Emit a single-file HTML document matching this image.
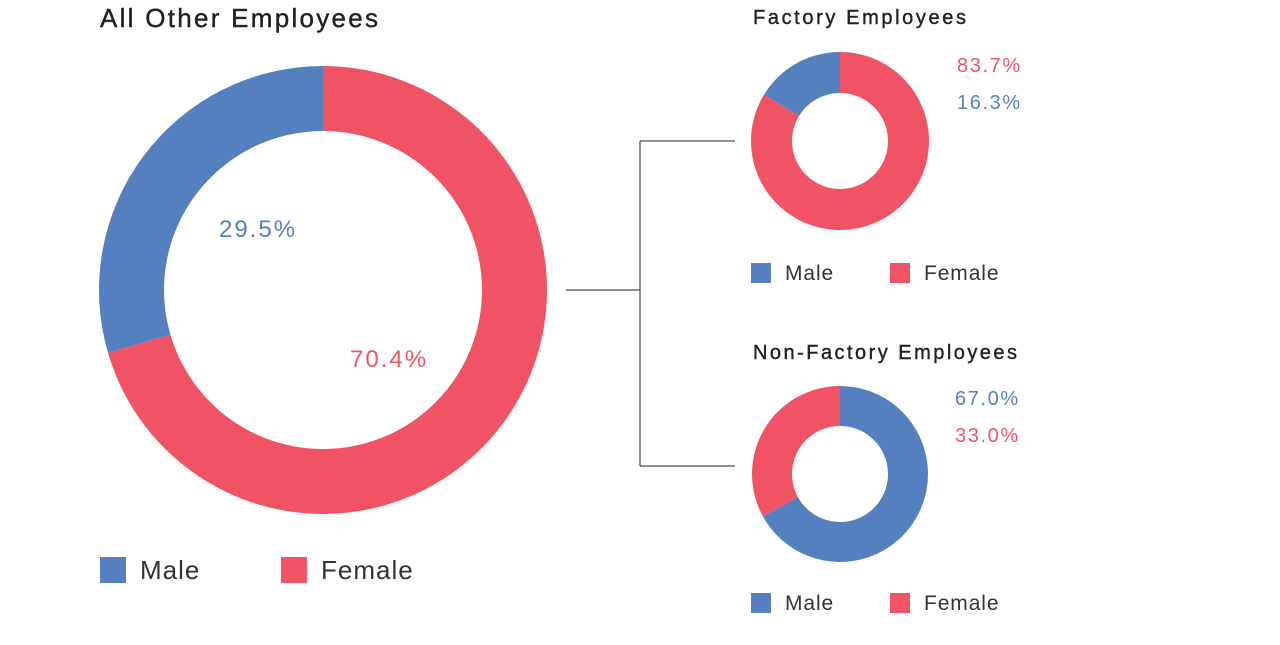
<!DOCTYPE html>
<html><head><meta charset="utf-8"><style>
body{margin:0;width:1280px;height:640px;background:#fff;overflow:hidden;font-family:"Liberation Sans",sans-serif}
svg text{font-family:"Liberation Sans",sans-serif}
</style></head><body>
<svg id="chart" width="1280" height="640">
<g id="lines" stroke="#222" stroke-width="1" fill="none">
<line x1="566" y1="290" x2="640" y2="290"/>
<line x1="640" y1="141" x2="640" y2="466"/>
<line x1="640" y1="141" x2="735" y2="141"/>
<line x1="640" y1="466" x2="735" y2="466"/>
</g>
</svg>
<script>
const chartTitles=["All Other Employees","Factory Employees","Non-Factory Employees"];
const maleValues=[29.5,16.3,67.0];
const femaleValues=[70.4,83.7,33.0];
const maleClockwise=[false,false,true];
const BLUE="#5580c0",RED="#f05464";
const layouts=[
 {cx:323,cy:290,r:224,ir:159,title:[100,27,26,278],legY:557,sq:26,lx:[100,281],fs:26,ls:1},
 {cx:840,cy:141,r:89,ir:48,title:[753,24,20,213],legY:263,sq:20,lx:[751,890],fs:21,ls:0.9},
 {cx:840,cy:474,r:88,ir:48,title:[753,359,20,264],legY:593,sq:20,lx:[751,890],fs:21,ls:0.9}
];
const svg=document.getElementById('chart');
const NS="http://www.w3.org/2000/svg";
function mk(t,a){const e=document.createElementNS(NS,t);for(const k in a)e.setAttribute(k,a[k]);return e;}
function pt(cx,cy,r,a){return [cx+r*Math.sin(a),cy-r*Math.cos(a)];}
function arc(L,a0,a1){
 const s=Math.min(a0,a1),e=Math.max(a0,a1),big=(e-s)>Math.PI?1:0;
 const p0=pt(L.cx,L.cy,L.r,s),p1=pt(L.cx,L.cy,L.r,e),q1=pt(L.cx,L.cy,L.ir,e),q0=pt(L.cx,L.cy,L.ir,s);
 return `M${p0}L${p0}A${L.r},${L.r} 0 ${big} 1 ${p1}L${q1}A${L.ir},${L.ir} 0 ${big} 0 ${q0}Z`;
}
layouts.forEach((L,i)=>{
 const tot=maleValues[i]+femaleValues[i];
 const ma=maleValues[i]/tot*2*Math.PI;
 const dir=maleClockwise[i]?1:-1;
 const m=mk('path',{d:arc(L,0,dir*ma),fill:BLUE});
 
 
 svg.appendChild(m);
 const f=mk('path',{d:arc(L,dir*ma,dir*2*Math.PI),fill:RED});
 
 
 svg.appendChild(f);
 const t=mk('text',{x:L.title[0],y:L.title[1],'font-size':L.title[2],fill:'#222',textLength:L.title[3],lengthAdjust:'spacing','stroke':'#222','stroke-width':0.4});
 t.textContent=chartTitles[i];
 
 
 svg.appendChild(t);
 ['Male','Female'].forEach((n,j)=>{
  const r=mk('rect',{x:L.lx[j],y:L.legY,width:L.sq,height:L.sq,fill:j?RED:BLUE});
  
  
  svg.appendChild(r);
  const tx=mk('text',{x:L.lx[j]+L.sq+14,y:L.legY+L.sq*0.85,'font-size':L.fs,fill:'#333','letter-spacing':L.ls});
  tx.textContent=n;
  
  
  svg.appendChild(tx);
 });
});
function lab(x,y,fs,col,txt,name,ls){const e=mk('text',{x:x,y:y,'font-size':fs,fill:col,'letter-spacing':ls});e.textContent=txt;
 
 
 svg.appendChild(e);}
lab(219,237,24,BLUE,maleValues[0].toFixed(1)+'%','male-value-all-other',2);
lab(350,367,24,RED,femaleValues[0].toFixed(1)+'%','female-value-all-other',2);
lab(957,72,20,RED,femaleValues[1].toFixed(1)+'%','female-value-factory',1.6);
lab(957,109,20,BLUE,maleValues[1].toFixed(1)+'%','male-value-factory',1.6);
lab(955,405,20,BLUE,maleValues[2].toFixed(1)+'%','male-value-non-factory',1.6);
lab(955,442,20,RED,femaleValues[2].toFixed(1)+'%','female-value-non-factory',1.6);
</script>
</body></html>
